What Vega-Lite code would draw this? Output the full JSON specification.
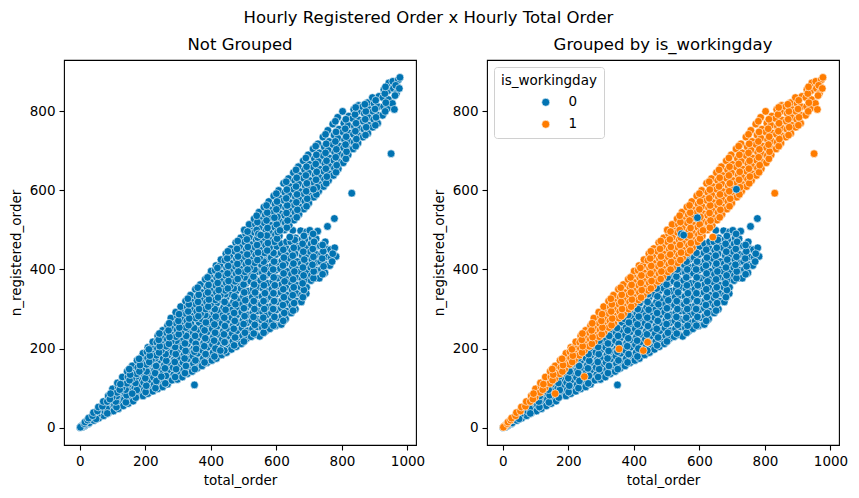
{
  "$schema": "https://vega.github.io/schema/vega-lite/v6.json",
  "title": {"text": "Hourly Registered Order x Hourly Total Order", "fontSize": 16.5, "fontWeight": "normal", "font": "DejaVu Sans", "anchor": "middle", "offset": 9},
  "padding": {"left": 8, "top": 10, "right": 17, "bottom": 5},
  "resolve": {"legend": {"color": "independent"}},
  "config": {
    "font": "DejaVu Sans",
    "view": {"stroke": "black", "strokeWidth": 1.1},
    "axis": {"grid": false, "domain": false, "tickColor": "black", "tickSize": 5, "tickWidth": 1.1, "labelFontSize": 13.5, "labelColor": "black", "labelFont": "DejaVu Sans", "titleFont": "DejaVu Sans", "titleFontSize": 13.5, "titleFontWeight": "normal", "titleColor": "black", "labelPadding": 4, "titlePadding": 6, "format": "d"},
    "title": {"fontSize": 16.5, "fontWeight": "normal", "font": "DejaVu Sans", "offset": 7},
    "legend": {"orient": "top-left", "offset": 7, "padding": 7, "fillColor": "white", "strokeColor": "#d0d0d0", "cornerRadius": 3, "titleFontSize": 13.5, "titleFontWeight": "normal", "titleColor": "black", "labelFontSize": 13.5, "labelColor": "black", "symbolSize": 64, "symbolOffset": 38, "labelOffset": 16, "rowPadding": 7, "titlePadding": 8, "symbolStrokeColor": "white", "symbolStrokeWidth": 0.6},
    "concat": {"spacing": 5}
  },
  "datasets": {
    "orders": [
      {"total":1,"reg":0,"wd":0},{"total":3,"reg":2,"wd":0},{"total":6,"reg":1,"wd":0},
      {"total":9,"reg":3,"wd":0},{"total":12,"reg":8,"wd":0},{"total":15,"reg":5,"wd":0},
      {"total":19,"reg":8,"wd":0},{"total":22,"reg":14,"wd":0},{"total":26,"reg":10,"wd":0},
      {"total":29,"reg":12,"wd":0},{"total":32,"reg":20,"wd":0},{"total":34,"reg":26,"wd":0},
      {"total":43,"reg":18,"wd":0},{"total":46,"reg":28,"wd":0},{"total":48,"reg":36,"wd":0},
      {"total":58,"reg":24,"wd":0},{"total":61,"reg":36,"wd":0},{"total":63,"reg":46,"wd":0},
      {"total":73,"reg":30,"wd":0},{"total":76,"reg":42,"wd":0},{"total":78,"reg":55,"wd":0},
      {"total":88,"reg":38,"wd":0},{"total":91,"reg":50,"wd":0},{"total":89,"reg":64,"wd":0},{"total":93,"reg":72,"wd":0},
      {"total":103,"reg":42,"wd":0},{"total":106,"reg":57,"wd":0},{"total":108,"reg":72,"wd":0},{"total":104,"reg":84,"wd":0},
      {"total":118,"reg":48,"wd":0},{"total":122,"reg":63,"wd":0},{"total":120,"reg":79,"wd":0},{"total":124,"reg":93,"wd":0},
      {"total":133,"reg":55,"wd":0},{"total":136,"reg":71,"wd":0},{"total":138,"reg":87,"wd":0},{"total":134,"reg":101,"wd":0},
      {"total":148,"reg":61,"wd":0},{"total":152,"reg":77,"wd":0},{"total":150,"reg":94,"wd":0},{"total":153,"reg":110,"wd":0},{"total":147,"reg":118,"wd":0},
      {"total":163,"reg":67,"wd":0},{"total":166,"reg":84,"wd":0},{"total":168,"reg":100,"wd":0},{"total":164,"reg":117,"wd":0},{"total":167,"reg":128,"wd":0},
      {"total":182,"reg":82,"wd":0},{"total":179,"reg":90,"wd":0},{"total":183,"reg":108,"wd":0},{"total":181,"reg":124,"wd":0},{"total":178,"reg":138,"wd":0},
      {"total":193,"reg":80,"wd":0},{"total":197,"reg":96,"wd":0},{"total":195,"reg":114,"wd":0},{"total":198,"reg":131,"wd":0},{"total":194,"reg":148,"wd":0},
      {"total":208,"reg":86,"wd":0},{"total":212,"reg":102,"wd":0},{"total":210,"reg":120,"wd":0},{"total":213,"reg":138,"wd":0},{"total":209,"reg":155,"wd":0},{"total":211,"reg":160,"wd":0},
      {"total":223,"reg":92,"wd":0},{"total":227,"reg":109,"wd":0},{"total":225,"reg":127,"wd":0},{"total":228,"reg":145,"wd":0},{"total":224,"reg":162,"wd":0},{"total":226,"reg":172,"wd":0},
      {"total":238,"reg":98,"wd":0},{"total":242,"reg":116,"wd":0},{"total":240,"reg":134,"wd":0},{"total":243,"reg":152,"wd":0},{"total":239,"reg":170,"wd":0},{"total":241,"reg":182,"wd":0},
      {"total":253,"reg":103,"wd":0},{"total":257,"reg":121,"wd":0},{"total":255,"reg":140,"wd":0},{"total":258,"reg":158,"wd":0},{"total":254,"reg":176,"wd":0},{"total":256,"reg":192,"wd":0},
      {"total":268,"reg":110,"wd":0},{"total":272,"reg":128,"wd":0},{"total":270,"reg":146,"wd":0},{"total":273,"reg":165,"wd":0},{"total":269,"reg":183,"wd":0},{"total":271,"reg":200,"wd":0},
      {"total":281,"reg":120,"wd":0},{"total":287,"reg":134,"wd":0},{"total":285,"reg":152,"wd":0},{"total":288,"reg":171,"wd":0},{"total":284,"reg":190,"wd":0},{"total":286,"reg":207,"wd":0},{"total":283,"reg":215,"wd":0},
      {"total":298,"reg":122,"wd":0},{"total":302,"reg":139,"wd":0},{"total":300,"reg":158,"wd":0},{"total":303,"reg":177,"wd":0},{"total":299,"reg":196,"wd":0},{"total":301,"reg":214,"wd":0},{"total":304,"reg":228,"wd":0},
      {"total":313,"reg":128,"wd":0},{"total":317,"reg":146,"wd":0},{"total":315,"reg":165,"wd":0},{"total":318,"reg":184,"wd":0},{"total":314,"reg":203,"wd":0},{"total":316,"reg":222,"wd":0},{"total":312,"reg":238,"wd":0},
      {"total":328,"reg":136,"wd":0},{"total":332,"reg":155,"wd":0},{"total":330,"reg":174,"wd":0},{"total":333,"reg":193,"wd":0},{"total":329,"reg":212,"wd":0},{"total":331,"reg":231,"wd":0},{"total":334,"reg":247,"wd":0},
      {"total":343,"reg":142,"wd":0},{"total":347,"reg":162,"wd":0},{"total":345,"reg":181,"wd":0},{"total":348,"reg":200,"wd":0},{"total":344,"reg":220,"wd":0},{"total":346,"reg":240,"wd":0},{"total":342,"reg":258,"wd":0},
      {"total":350,"reg":108,"wd":0},
      {"total":358,"reg":150,"wd":0},{"total":362,"reg":168,"wd":0},{"total":360,"reg":188,"wd":0},{"total":363,"reg":207,"wd":0},{"total":359,"reg":227,"wd":0},{"total":361,"reg":246,"wd":0},{"total":364,"reg":266,"wd":0},
      {"total":373,"reg":156,"wd":0},{"total":377,"reg":175,"wd":0},{"total":375,"reg":195,"wd":0},{"total":378,"reg":214,"wd":0},{"total":374,"reg":234,"wd":0},{"total":376,"reg":253,"wd":0},{"total":372,"reg":275,"wd":0},
      {"total":388,"reg":164,"wd":0},{"total":392,"reg":183,"wd":0},{"total":390,"reg":203,"wd":0},{"total":393,"reg":222,"wd":0},{"total":389,"reg":242,"wd":0},{"total":391,"reg":262,"wd":0},{"total":394,"reg":282,"wd":0},{"total":387,"reg":295,"wd":0},
      {"total":403,"reg":170,"wd":0},{"total":407,"reg":190,"wd":0},{"total":405,"reg":210,"wd":0},{"total":408,"reg":230,"wd":0},{"total":404,"reg":250,"wd":0},{"total":406,"reg":270,"wd":0},{"total":409,"reg":290,"wd":0},{"total":402,"reg":305,"wd":0},
      {"total":417,"reg":175,"wd":0},{"total":422,"reg":196,"wd":0},{"total":420,"reg":216,"wd":0},{"total":423,"reg":236,"wd":0},{"total":419,"reg":256,"wd":0},{"total":421,"reg":276,"wd":0},{"total":424,"reg":296,"wd":0},{"total":418,"reg":315,"wd":0},
      {"total":433,"reg":184,"wd":0},{"total":437,"reg":204,"wd":0},{"total":435,"reg":224,"wd":0},{"total":438,"reg":244,"wd":0},{"total":434,"reg":264,"wd":0},{"total":436,"reg":284,"wd":0},{"total":439,"reg":304,"wd":0},{"total":432,"reg":324,"wd":0},
      {"total":448,"reg":190,"wd":0},{"total":452,"reg":210,"wd":0},{"total":450,"reg":230,"wd":0},{"total":453,"reg":250,"wd":0},{"total":449,"reg":270,"wd":0},{"total":451,"reg":290,"wd":0},{"total":454,"reg":310,"wd":0},{"total":447,"reg":330,"wd":0},{"total":452,"reg":345,"wd":0},
      {"total":463,"reg":198,"wd":0},{"total":467,"reg":218,"wd":0},{"total":465,"reg":238,"wd":0},{"total":468,"reg":258,"wd":0},{"total":464,"reg":278,"wd":0},{"total":466,"reg":298,"wd":0},{"total":469,"reg":318,"wd":0},{"total":462,"reg":338,"wd":0},{"total":467,"reg":355,"wd":0},
      {"total":478,"reg":205,"wd":0},{"total":482,"reg":225,"wd":0},{"total":480,"reg":245,"wd":0},{"total":483,"reg":265,"wd":0},{"total":479,"reg":285,"wd":0},{"total":481,"reg":305,"wd":0},{"total":484,"reg":325,"wd":0},{"total":477,"reg":345,"wd":0},{"total":482,"reg":365,"wd":0},
      {"total":493,"reg":212,"wd":0},{"total":497,"reg":232,"wd":0},{"total":495,"reg":252,"wd":0},{"total":498,"reg":272,"wd":0},{"total":494,"reg":292,"wd":0},{"total":496,"reg":312,"wd":0},{"total":499,"reg":332,"wd":0},{"total":492,"reg":352,"wd":0},{"total":497,"reg":372,"wd":0},{"total":494,"reg":390,"wd":0},
      {"total":508,"reg":225,"wd":0},{"total":512,"reg":245,"wd":0},{"total":510,"reg":265,"wd":0},{"total":513,"reg":285,"wd":0},{"total":509,"reg":305,"wd":0},{"total":511,"reg":325,"wd":0},{"total":514,"reg":345,"wd":0},{"total":507,"reg":365,"wd":0},{"total":512,"reg":385,"wd":0},{"total":509,"reg":400,"wd":0},
      {"total":523,"reg":230,"wd":0},{"total":527,"reg":250,"wd":0},{"total":525,"reg":270,"wd":0},{"total":528,"reg":290,"wd":0},{"total":524,"reg":310,"wd":0},{"total":526,"reg":330,"wd":0},{"total":529,"reg":350,"wd":0},{"total":522,"reg":370,"wd":0},{"total":527,"reg":390,"wd":0},{"total":524,"reg":410,"wd":0},
      {"total":538,"reg":235,"wd":0},{"total":542,"reg":255,"wd":0},{"total":540,"reg":275,"wd":0},{"total":543,"reg":295,"wd":0},{"total":539,"reg":315,"wd":0},{"total":541,"reg":335,"wd":0},{"total":544,"reg":355,"wd":0},{"total":537,"reg":375,"wd":0},{"total":542,"reg":395,"wd":0},{"total":539,"reg":418,"wd":0},{"total":544,"reg":430,"wd":0},
      {"total":549,"reg":231,"wd":0},{"total":557,"reg":252,"wd":0},{"total":555,"reg":272,"wd":0},{"total":558,"reg":292,"wd":0},{"total":554,"reg":312,"wd":0},{"total":556,"reg":332,"wd":0},{"total":559,"reg":352,"wd":0},{"total":552,"reg":372,"wd":0},{"total":557,"reg":392,"wd":0},{"total":554,"reg":412,"wd":0},{"total":556,"reg":435,"wd":0},
      {"total":568,"reg":245,"wd":0},{"total":572,"reg":265,"wd":0},{"total":570,"reg":285,"wd":0},{"total":573,"reg":305,"wd":0},{"total":569,"reg":325,"wd":0},{"total":571,"reg":345,"wd":0},{"total":574,"reg":365,"wd":0},{"total":567,"reg":385,"wd":0},{"total":572,"reg":405,"wd":0},{"total":569,"reg":425,"wd":0},{"total":571,"reg":440,"wd":0},
      {"total":580,"reg":250,"wd":0},{"total":587,"reg":270,"wd":0},{"total":585,"reg":290,"wd":0},{"total":588,"reg":310,"wd":0},{"total":584,"reg":330,"wd":0},{"total":586,"reg":350,"wd":0},{"total":589,"reg":370,"wd":0},{"total":582,"reg":390,"wd":0},{"total":587,"reg":410,"wd":0},{"total":584,"reg":430,"wd":0},{"total":586,"reg":452,"wd":0},
      {"total":598,"reg":258,"wd":0},{"total":602,"reg":278,"wd":0},{"total":600,"reg":298,"wd":0},{"total":603,"reg":318,"wd":0},{"total":599,"reg":338,"wd":0},{"total":601,"reg":358,"wd":0},{"total":604,"reg":378,"wd":0},{"total":597,"reg":398,"wd":0},{"total":602,"reg":418,"wd":0},{"total":599,"reg":438,"wd":0},{"total":601,"reg":458,"wd":0},
      {"total":615,"reg":261,"wd":0},{"total":617,"reg":282,"wd":0},{"total":615,"reg":302,"wd":0},{"total":618,"reg":322,"wd":0},{"total":614,"reg":342,"wd":0},{"total":616,"reg":362,"wd":0},{"total":619,"reg":382,"wd":0},{"total":612,"reg":402,"wd":0},{"total":617,"reg":422,"wd":0},{"total":614,"reg":442,"wd":0},{"total":616,"reg":465,"wd":0},
      {"total":628,"reg":275,"wd":0},{"total":632,"reg":295,"wd":0},{"total":630,"reg":315,"wd":0},{"total":633,"reg":335,"wd":0},{"total":629,"reg":355,"wd":0},{"total":631,"reg":375,"wd":0},{"total":634,"reg":395,"wd":0},{"total":627,"reg":415,"wd":0},{"total":632,"reg":435,"wd":0},{"total":629,"reg":455,"wd":0},{"total":631,"reg":470,"wd":0},
      {"total":645,"reg":290,"wd":0},{"total":647,"reg":308,"wd":0},{"total":645,"reg":328,"wd":0},{"total":648,"reg":348,"wd":0},{"total":644,"reg":368,"wd":0},{"total":646,"reg":388,"wd":0},{"total":649,"reg":408,"wd":0},{"total":642,"reg":428,"wd":0},{"total":647,"reg":448,"wd":0},{"total":644,"reg":470,"wd":0},{"total":650,"reg":499,"wd":0},
      {"total":658,"reg":300,"wd":0},{"total":662,"reg":320,"wd":0},{"total":660,"reg":340,"wd":0},{"total":663,"reg":360,"wd":0},{"total":659,"reg":380,"wd":0},{"total":661,"reg":400,"wd":0},{"total":664,"reg":420,"wd":0},{"total":657,"reg":440,"wd":0},{"total":662,"reg":460,"wd":0},{"total":659,"reg":480,"wd":0},
      {"total":676,"reg":318,"wd":0},{"total":677,"reg":335,"wd":0},{"total":675,"reg":355,"wd":0},{"total":678,"reg":375,"wd":0},{"total":674,"reg":395,"wd":0},{"total":676,"reg":415,"wd":0},{"total":679,"reg":435,"wd":0},{"total":672,"reg":455,"wd":0},{"total":677,"reg":475,"wd":0},{"total":674,"reg":498,"wd":0},
      {"total":691,"reg":339,"wd":0},{"total":692,"reg":355,"wd":0},{"total":690,"reg":375,"wd":0},{"total":693,"reg":395,"wd":0},{"total":689,"reg":415,"wd":0},{"total":691,"reg":435,"wd":0},{"total":694,"reg":455,"wd":0},{"total":687,"reg":475,"wd":0},{"total":692,"reg":495,"wd":0},
      {"total":706,"reg":372,"wd":0},{"total":707,"reg":385,"wd":0},{"total":705,"reg":405,"wd":0},{"total":708,"reg":425,"wd":0},{"total":704,"reg":445,"wd":0},{"total":706,"reg":465,"wd":0},{"total":709,"reg":480,"wd":0},{"total":702,"reg":499,"wd":0},
      {"total":718,"reg":378,"wd":0},{"total":722,"reg":398,"wd":0},{"total":720,"reg":418,"wd":0},{"total":723,"reg":438,"wd":0},{"total":719,"reg":458,"wd":0},{"total":721,"reg":478,"wd":0},
      {"total":731,"reg":378,"wd":0},{"total":737,"reg":400,"wd":0},{"total":735,"reg":420,"wd":0},{"total":738,"reg":440,"wd":0},{"total":734,"reg":460,"wd":0},{"total":726,"reg":497,"wd":0},
      {"total":748,"reg":392,"wd":0},{"total":752,"reg":412,"wd":0},{"total":750,"reg":432,"wd":0},{"total":753,"reg":452,"wd":0},{"total":749,"reg":470,"wd":0},
      {"total":763,"reg":410,"wd":0},{"total":767,"reg":430,"wd":0},{"total":765,"reg":450,"wd":0},{"total":756,"reg":509,"wd":0},
      {"total":782,"reg":433,"wd":0},{"total":778,"reg":455,"wd":0},{"total":777,"reg":529,"wd":0},
      {"total":53,"reg":30,"wd":0},{"total":50,"reg":22,"wd":0},{"total":82,"reg":48,"wd":0},{"total":84,"reg":36,"wd":0},
      {"total":112,"reg":52,"wd":0},{"total":110,"reg":66,"wd":0},{"total":113,"reg":80,"wd":0},
      {"total":141,"reg":64,"wd":0},{"total":143,"reg":82,"wd":0},{"total":140,"reg":96,"wd":0},
      {"total":171,"reg":76,"wd":0},{"total":174,"reg":95,"wd":0},{"total":170,"reg":113,"wd":0},{"total":173,"reg":130,"wd":0},
      {"total":201,"reg":90,"wd":0},{"total":203,"reg":106,"wd":0},{"total":200,"reg":125,"wd":0},{"total":204,"reg":142,"wd":0},
      {"total":231,"reg":100,"wd":0},{"total":234,"reg":118,"wd":0},{"total":230,"reg":138,"wd":0},{"total":233,"reg":156,"wd":0},{"total":231,"reg":176,"wd":0},
      {"total":261,"reg":112,"wd":0},{"total":263,"reg":131,"wd":0},{"total":260,"reg":150,"wd":0},{"total":264,"reg":169,"wd":0},{"total":262,"reg":186,"wd":0},
      {"total":291,"reg":128,"wd":0},{"total":294,"reg":148,"wd":0},{"total":290,"reg":166,"wd":0},{"total":293,"reg":186,"wd":0},{"total":291,"reg":204,"wd":0},{"total":295,"reg":220,"wd":0},
      {"total":321,"reg":138,"wd":0},{"total":324,"reg":156,"wd":0},{"total":320,"reg":175,"wd":0},{"total":323,"reg":194,"wd":0},{"total":321,"reg":213,"wd":0},{"total":325,"reg":232,"wd":0},
      {"total":351,"reg":148,"wd":0},{"total":353,"reg":170,"wd":0},{"total":350,"reg":192,"wd":0},{"total":354,"reg":212,"wd":0},{"total":352,"reg":232,"wd":0},{"total":349,"reg":252,"wd":0},
      {"total":381,"reg":165,"wd":0},{"total":384,"reg":186,"wd":0},{"total":380,"reg":206,"wd":0},{"total":383,"reg":226,"wd":0},{"total":381,"reg":246,"wd":0},{"total":385,"reg":266,"wd":0},{"total":383,"reg":285,"wd":0},
      {"total":411,"reg":180,"wd":0},{"total":414,"reg":200,"wd":0},{"total":410,"reg":220,"wd":0},{"total":413,"reg":240,"wd":0},{"total":411,"reg":261,"wd":0},{"total":415,"reg":281,"wd":0},{"total":412,"reg":300,"wd":0},
      {"total":441,"reg":195,"wd":0},{"total":444,"reg":216,"wd":0},{"total":440,"reg":236,"wd":0},{"total":443,"reg":257,"wd":0},{"total":441,"reg":278,"wd":0},{"total":445,"reg":298,"wd":0},{"total":442,"reg":318,"wd":0},{"total":444,"reg":338,"wd":0},
      {"total":471,"reg":208,"wd":0},{"total":474,"reg":228,"wd":0},{"total":470,"reg":250,"wd":0},{"total":473,"reg":270,"wd":0},{"total":471,"reg":290,"wd":0},{"total":475,"reg":312,"wd":0},{"total":472,"reg":332,"wd":0},{"total":470,"reg":352,"wd":0},
      {"total":501,"reg":218,"wd":0},{"total":504,"reg":240,"wd":0},{"total":500,"reg":262,"wd":0},{"total":503,"reg":282,"wd":0},{"total":501,"reg":302,"wd":0},{"total":505,"reg":322,"wd":0},{"total":502,"reg":342,"wd":0},{"total":500,"reg":362,"wd":0},{"total":503,"reg":380,"wd":0},
      {"total":531,"reg":238,"wd":0},{"total":534,"reg":260,"wd":0},{"total":530,"reg":280,"wd":0},{"total":533,"reg":300,"wd":0},{"total":531,"reg":320,"wd":0},{"total":535,"reg":342,"wd":0},{"total":532,"reg":362,"wd":0},{"total":530,"reg":382,"wd":0},{"total":533,"reg":400,"wd":0},{"total":535,"reg":420,"wd":0},
      {"total":561,"reg":240,"wd":0},{"total":564,"reg":258,"wd":0},{"total":560,"reg":278,"wd":0},{"total":563,"reg":300,"wd":0},{"total":561,"reg":320,"wd":0},{"total":565,"reg":340,"wd":0},{"total":562,"reg":360,"wd":0},{"total":560,"reg":380,"wd":0},{"total":563,"reg":400,"wd":0},{"total":561,"reg":420,"wd":0},
      {"total":591,"reg":258,"wd":0},{"total":594,"reg":280,"wd":0},{"total":590,"reg":300,"wd":0},{"total":593,"reg":320,"wd":0},{"total":591,"reg":340,"wd":0},{"total":595,"reg":360,"wd":0},{"total":592,"reg":380,"wd":0},{"total":590,"reg":400,"wd":0},{"total":593,"reg":420,"wd":0},{"total":591,"reg":442,"wd":0},
      {"total":621,"reg":270,"wd":0},{"total":624,"reg":290,"wd":0},{"total":620,"reg":310,"wd":0},{"total":623,"reg":330,"wd":0},{"total":621,"reg":350,"wd":0},{"total":625,"reg":370,"wd":0},{"total":622,"reg":390,"wd":0},{"total":620,"reg":410,"wd":0},{"total":623,"reg":430,"wd":0},{"total":621,"reg":450,"wd":0},
      {"total":651,"reg":296,"wd":0},{"total":654,"reg":315,"wd":0},{"total":650,"reg":335,"wd":0},{"total":653,"reg":355,"wd":0},{"total":651,"reg":375,"wd":0},{"total":655,"reg":395,"wd":0},{"total":652,"reg":415,"wd":0},{"total":650,"reg":435,"wd":0},{"total":653,"reg":455,"wd":0},{"total":656,"reg":475,"wd":0},
      {"total":681,"reg":330,"wd":0},{"total":684,"reg":348,"wd":0},{"total":680,"reg":365,"wd":0},{"total":683,"reg":385,"wd":0},{"total":681,"reg":405,"wd":0},{"total":685,"reg":425,"wd":0},{"total":682,"reg":445,"wd":0},{"total":680,"reg":465,"wd":0},{"total":684,"reg":485,"wd":0},
      {"total":713,"reg":378,"wd":0},{"total":714,"reg":395,"wd":0},{"total":710,"reg":412,"wd":0},{"total":713,"reg":432,"wd":0},{"total":711,"reg":452,"wd":0},{"total":715,"reg":470,"wd":0},{"total":712,"reg":490,"wd":0},
      {"total":741,"reg":388,"wd":0},{"total":744,"reg":408,"wd":0},{"total":740,"reg":428,"wd":0},{"total":743,"reg":446,"wd":0},{"total":741,"reg":462,"wd":0},
      {"total":770,"reg":420,"wd":0},{"total":772,"reg":440,"wd":0},
      {"total":4,"reg":3,"wd":1},{"total":7,"reg":5,"wd":1},{"total":2,"reg":1,"wd":1},
      {"total":14,"reg":10,"wd":1},{"total":16,"reg":14,"wd":1},
      {"total":24,"reg":19,"wd":1},{"total":27,"reg":24,"wd":1},
      {"total":39,"reg":30,"wd":1},{"total":42,"reg":38,"wd":1},
      {"total":54,"reg":42,"wd":1},{"total":57,"reg":52,"wd":1},
      {"total":69,"reg":54,"wd":1},{"total":72,"reg":66,"wd":1},
      {"total":84,"reg":66,"wd":1},{"total":87,"reg":80,"wd":1},
      {"total":99,"reg":77,"wd":1},{"total":102,"reg":92,"wd":1},{"total":100,"reg":98,"wd":1},
      {"total":114,"reg":89,"wd":1},{"total":117,"reg":104,"wd":1},{"total":115,"reg":113,"wd":1},
      {"total":129,"reg":101,"wd":1},{"total":132,"reg":116,"wd":1},{"total":130,"reg":128,"wd":1},
      {"total":144,"reg":112,"wd":1},{"total":147,"reg":128,"wd":1},{"total":145,"reg":142,"wd":1},
      {"total":159,"reg":124,"wd":1},{"total":162,"reg":140,"wd":1},{"total":160,"reg":156,"wd":1},
      {"total":174,"reg":136,"wd":1},{"total":177,"reg":152,"wd":1},{"total":175,"reg":170,"wd":1},
      {"total":189,"reg":148,"wd":1},{"total":192,"reg":164,"wd":1},{"total":190,"reg":180,"wd":1},{"total":193,"reg":188,"wd":1},
      {"total":204,"reg":160,"wd":1},{"total":207,"reg":176,"wd":1},{"total":205,"reg":192,"wd":1},{"total":208,"reg":203,"wd":1},
      {"total":219,"reg":171,"wd":1},{"total":222,"reg":188,"wd":1},{"total":220,"reg":204,"wd":1},{"total":223,"reg":217,"wd":1},
      {"total":234,"reg":183,"wd":1},{"total":237,"reg":200,"wd":1},{"total":235,"reg":216,"wd":1},{"total":238,"reg":232,"wd":1},
      {"total":249,"reg":195,"wd":1},{"total":252,"reg":212,"wd":1},{"total":250,"reg":228,"wd":1},{"total":253,"reg":246,"wd":1},
      {"total":264,"reg":206,"wd":1},{"total":267,"reg":223,"wd":1},{"total":265,"reg":240,"wd":1},{"total":268,"reg":258,"wd":1},
      {"total":279,"reg":218,"wd":1},{"total":282,"reg":235,"wd":1},{"total":280,"reg":252,"wd":1},{"total":283,"reg":270,"wd":1},{"total":278,"reg":277,"wd":1},
      {"total":294,"reg":230,"wd":1},{"total":297,"reg":247,"wd":1},{"total":295,"reg":264,"wd":1},{"total":298,"reg":281,"wd":1},{"total":293,"reg":292,"wd":1},
      {"total":309,"reg":242,"wd":1},{"total":312,"reg":259,"wd":1},{"total":310,"reg":276,"wd":1},{"total":313,"reg":293,"wd":1},{"total":308,"reg":306,"wd":1},
      {"total":324,"reg":253,"wd":1},{"total":327,"reg":270,"wd":1},{"total":325,"reg":288,"wd":1},{"total":328,"reg":305,"wd":1},{"total":323,"reg":320,"wd":1},
      {"total":339,"reg":265,"wd":1},{"total":342,"reg":282,"wd":1},{"total":340,"reg":300,"wd":1},{"total":343,"reg":318,"wd":1},{"total":338,"reg":335,"wd":1},
      {"total":354,"reg":277,"wd":1},{"total":357,"reg":294,"wd":1},{"total":355,"reg":312,"wd":1},{"total":358,"reg":330,"wd":1},{"total":353,"reg":350,"wd":1},
      {"total":369,"reg":288,"wd":1},{"total":372,"reg":306,"wd":1},{"total":370,"reg":324,"wd":1},{"total":373,"reg":342,"wd":1},{"total":368,"reg":362,"wd":1},
      {"total":384,"reg":300,"wd":1},{"total":387,"reg":318,"wd":1},{"total":385,"reg":336,"wd":1},{"total":388,"reg":355,"wd":1},{"total":383,"reg":375,"wd":1},
      {"total":399,"reg":312,"wd":1},{"total":402,"reg":330,"wd":1},{"total":400,"reg":348,"wd":1},{"total":403,"reg":367,"wd":1},{"total":398,"reg":386,"wd":1},{"total":401,"reg":396,"wd":1},
      {"total":414,"reg":323,"wd":1},{"total":417,"reg":342,"wd":1},{"total":415,"reg":360,"wd":1},{"total":418,"reg":379,"wd":1},{"total":413,"reg":398,"wd":1},{"total":416,"reg":410,"wd":1},
      {"total":429,"reg":335,"wd":1},{"total":432,"reg":354,"wd":1},{"total":430,"reg":372,"wd":1},{"total":433,"reg":391,"wd":1},{"total":428,"reg":410,"wd":1},{"total":431,"reg":425,"wd":1},
      {"total":444,"reg":347,"wd":1},{"total":447,"reg":366,"wd":1},{"total":445,"reg":385,"wd":1},{"total":448,"reg":404,"wd":1},{"total":443,"reg":423,"wd":1},{"total":446,"reg":440,"wd":1},
      {"total":459,"reg":358,"wd":1},{"total":462,"reg":377,"wd":1},{"total":460,"reg":396,"wd":1},{"total":463,"reg":415,"wd":1},{"total":458,"reg":434,"wd":1},{"total":461,"reg":453,"wd":1},
      {"total":474,"reg":370,"wd":1},{"total":477,"reg":389,"wd":1},{"total":475,"reg":408,"wd":1},{"total":478,"reg":427,"wd":1},{"total":473,"reg":446,"wd":1},{"total":476,"reg":468,"wd":1},
      {"total":489,"reg":382,"wd":1},{"total":492,"reg":401,"wd":1},{"total":490,"reg":420,"wd":1},{"total":493,"reg":439,"wd":1},{"total":488,"reg":458,"wd":1},{"total":491,"reg":480,"wd":1},
      {"total":504,"reg":394,"wd":1},{"total":507,"reg":413,"wd":1},{"total":505,"reg":432,"wd":1},{"total":508,"reg":451,"wd":1},{"total":503,"reg":470,"wd":1},{"total":506,"reg":490,"wd":1},{"total":502,"reg":500,"wd":1},
      {"total":519,"reg":405,"wd":1},{"total":522,"reg":425,"wd":1},{"total":520,"reg":444,"wd":1},{"total":523,"reg":463,"wd":1},{"total":518,"reg":482,"wd":1},{"total":521,"reg":502,"wd":1},{"total":517,"reg":514,"wd":1},
      {"total":534,"reg":417,"wd":1},{"total":537,"reg":437,"wd":1},{"total":535,"reg":456,"wd":1},{"total":538,"reg":475,"wd":1},{"total":533,"reg":494,"wd":1},{"total":536,"reg":514,"wd":1},{"total":532,"reg":528,"wd":1},
      {"total":549,"reg":430,"wd":1},{"total":552,"reg":449,"wd":1},{"total":550,"reg":468,"wd":1},{"total":553,"reg":487,"wd":1},{"total":548,"reg":506,"wd":1},{"total":551,"reg":526,"wd":1},{"total":547,"reg":545,"wd":1},
      {"total":564,"reg":442,"wd":1},{"total":567,"reg":461,"wd":1},{"total":565,"reg":480,"wd":1},{"total":568,"reg":499,"wd":1},{"total":563,"reg":518,"wd":1},{"total":566,"reg":538,"wd":1},{"total":562,"reg":558,"wd":1},
      {"total":579,"reg":455,"wd":1},{"total":582,"reg":474,"wd":1},{"total":580,"reg":493,"wd":1},{"total":583,"reg":512,"wd":1},{"total":578,"reg":531,"wd":1},{"total":581,"reg":551,"wd":1},{"total":577,"reg":572,"wd":1},
      {"total":594,"reg":470,"wd":1},{"total":597,"reg":488,"wd":1},{"total":595,"reg":507,"wd":1},{"total":598,"reg":526,"wd":1},{"total":593,"reg":545,"wd":1},{"total":596,"reg":565,"wd":1},{"total":592,"reg":586,"wd":1},
      {"total":609,"reg":485,"wd":1},{"total":612,"reg":503,"wd":1},{"total":610,"reg":522,"wd":1},{"total":613,"reg":541,"wd":1},{"total":608,"reg":560,"wd":1},{"total":611,"reg":580,"wd":1},{"total":607,"reg":600,"wd":1},
      {"total":624,"reg":500,"wd":1},{"total":627,"reg":518,"wd":1},{"total":625,"reg":537,"wd":1},{"total":628,"reg":556,"wd":1},{"total":623,"reg":575,"wd":1},{"total":626,"reg":595,"wd":1},{"total":622,"reg":618,"wd":1},
      {"total":639,"reg":512,"wd":1},{"total":642,"reg":531,"wd":1},{"total":640,"reg":550,"wd":1},{"total":643,"reg":569,"wd":1},{"total":638,"reg":589,"wd":1},{"total":641,"reg":610,"wd":1},{"total":637,"reg":630,"wd":1},
      {"total":654,"reg":525,"wd":1},{"total":657,"reg":544,"wd":1},{"total":655,"reg":563,"wd":1},{"total":658,"reg":583,"wd":1},{"total":653,"reg":603,"wd":1},{"total":656,"reg":625,"wd":1},{"total":652,"reg":645,"wd":1},
      {"total":669,"reg":540,"wd":1},{"total":672,"reg":558,"wd":1},{"total":670,"reg":577,"wd":1},{"total":673,"reg":597,"wd":1},{"total":668,"reg":617,"wd":1},{"total":671,"reg":638,"wd":1},{"total":667,"reg":660,"wd":1},
      {"total":684,"reg":553,"wd":1},{"total":687,"reg":572,"wd":1},{"total":685,"reg":591,"wd":1},{"total":688,"reg":611,"wd":1},{"total":683,"reg":631,"wd":1},{"total":686,"reg":652,"wd":1},{"total":682,"reg":675,"wd":1},
      {"total":699,"reg":568,"wd":1},{"total":702,"reg":586,"wd":1},{"total":700,"reg":605,"wd":1},{"total":703,"reg":625,"wd":1},{"total":698,"reg":645,"wd":1},{"total":701,"reg":666,"wd":1},{"total":697,"reg":690,"wd":1},
      {"total":714,"reg":583,"wd":1},{"total":717,"reg":600,"wd":1},{"total":715,"reg":619,"wd":1},{"total":718,"reg":639,"wd":1},{"total":713,"reg":659,"wd":1},{"total":716,"reg":680,"wd":1},{"total":712,"reg":705,"wd":1},
      {"total":729,"reg":598,"wd":1},{"total":732,"reg":615,"wd":1},{"total":730,"reg":634,"wd":1},{"total":733,"reg":654,"wd":1},{"total":728,"reg":674,"wd":1},{"total":731,"reg":695,"wd":1},{"total":727,"reg":718,"wd":1},
      {"total":744,"reg":610,"wd":1},{"total":747,"reg":628,"wd":1},{"total":745,"reg":648,"wd":1},{"total":748,"reg":668,"wd":1},{"total":743,"reg":688,"wd":1},{"total":746,"reg":710,"wd":1},{"total":742,"reg":735,"wd":1},
      {"total":759,"reg":625,"wd":1},{"total":762,"reg":642,"wd":1},{"total":760,"reg":662,"wd":1},{"total":763,"reg":682,"wd":1},{"total":758,"reg":702,"wd":1},{"total":761,"reg":724,"wd":1},{"total":757,"reg":752,"wd":1},
      {"total":774,"reg":638,"wd":1},{"total":777,"reg":656,"wd":1},{"total":775,"reg":676,"wd":1},{"total":778,"reg":696,"wd":1},{"total":773,"reg":716,"wd":1},{"total":776,"reg":740,"wd":1},{"total":772,"reg":768,"wd":1},
      {"total":789,"reg":655,"wd":1},{"total":792,"reg":672,"wd":1},{"total":790,"reg":692,"wd":1},{"total":793,"reg":712,"wd":1},{"total":788,"reg":732,"wd":1},{"total":791,"reg":755,"wd":1},{"total":787,"reg":785,"wd":1},
      {"total":804,"reg":670,"wd":1},{"total":807,"reg":688,"wd":1},{"total":805,"reg":708,"wd":1},{"total":808,"reg":728,"wd":1},{"total":803,"reg":748,"wd":1},{"total":806,"reg":770,"wd":1},{"total":802,"reg":800,"wd":1},
      {"total":819,"reg":690,"wd":1},{"total":822,"reg":705,"wd":1},{"total":820,"reg":725,"wd":1},{"total":823,"reg":745,"wd":1},{"total":818,"reg":765,"wd":1},{"total":821,"reg":788,"wd":1},
      {"total":834,"reg":705,"wd":1},{"total":837,"reg":722,"wd":1},{"total":835,"reg":742,"wd":1},{"total":838,"reg":762,"wd":1},{"total":833,"reg":782,"wd":1},{"total":836,"reg":805,"wd":1},
      {"total":849,"reg":720,"wd":1},{"total":852,"reg":738,"wd":1},{"total":850,"reg":758,"wd":1},{"total":853,"reg":778,"wd":1},{"total":848,"reg":800,"wd":1},{"total":851,"reg":815,"wd":1},
      {"total":864,"reg":735,"wd":1},{"total":867,"reg":755,"wd":1},{"total":865,"reg":775,"wd":1},{"total":868,"reg":795,"wd":1},{"total":863,"reg":812,"wd":1},
      {"total":879,"reg":745,"wd":1},{"total":882,"reg":765,"wd":1},{"total":880,"reg":785,"wd":1},{"total":883,"reg":805,"wd":1},{"total":878,"reg":822,"wd":1},
      {"total":894,"reg":760,"wd":1},{"total":897,"reg":780,"wd":1},{"total":895,"reg":800,"wd":1},{"total":898,"reg":820,"wd":1},{"total":893,"reg":835,"wd":1},
      {"total":909,"reg":770,"wd":1},{"total":912,"reg":790,"wd":1},{"total":910,"reg":812,"wd":1},{"total":913,"reg":838,"wd":1},
      {"total":924,"reg":790,"wd":1},{"total":927,"reg":812,"wd":1},{"total":925,"reg":835,"wd":1},{"total":928,"reg":855,"wd":1},
      {"total":939,"reg":808,"wd":1},{"total":942,"reg":830,"wd":1},{"total":940,"reg":852,"wd":1},{"total":943,"reg":872,"wd":1},
      {"total":954,"reg":820,"wd":1},{"total":957,"reg":858,"wd":1},{"total":955,"reg":876,"wd":1},
      {"total":969,"reg":862,"wd":1},{"total":972,"reg":880,"wd":1},{"total":966,"reg":845,"wd":1},
      {"total":977,"reg":886,"wd":1},
      {"total":92,"reg":72,"wd":1},{"total":94,"reg":86,"wd":1},{"total":122,"reg":96,"wd":1},{"total":124,"reg":110,"wd":1},
      {"total":152,"reg":120,"wd":1},{"total":154,"reg":134,"wd":1},{"total":151,"reg":148,"wd":1},
      {"total":182,"reg":142,"wd":1},{"total":184,"reg":158,"wd":1},{"total":181,"reg":174,"wd":1},
      {"total":212,"reg":166,"wd":1},{"total":214,"reg":182,"wd":1},{"total":211,"reg":198,"wd":1},
      {"total":242,"reg":190,"wd":1},{"total":244,"reg":206,"wd":1},{"total":241,"reg":222,"wd":1},{"total":243,"reg":238,"wd":1},
      {"total":272,"reg":212,"wd":1},{"total":274,"reg":229,"wd":1},{"total":271,"reg":246,"wd":1},{"total":273,"reg":264,"wd":1},
      {"total":302,"reg":236,"wd":1},{"total":304,"reg":253,"wd":1},{"total":301,"reg":270,"wd":1},{"total":303,"reg":287,"wd":1},
      {"total":332,"reg":259,"wd":1},{"total":334,"reg":276,"wd":1},{"total":331,"reg":294,"wd":1},{"total":333,"reg":312,"wd":1},{"total":330,"reg":326,"wd":1},
      {"total":362,"reg":282,"wd":1},{"total":364,"reg":300,"wd":1},{"total":361,"reg":318,"wd":1},{"total":363,"reg":336,"wd":1},{"total":360,"reg":354,"wd":1},
      {"total":392,"reg":306,"wd":1},{"total":394,"reg":324,"wd":1},{"total":391,"reg":342,"wd":1},{"total":393,"reg":361,"wd":1},{"total":390,"reg":380,"wd":1},
      {"total":422,"reg":329,"wd":1},{"total":424,"reg":348,"wd":1},{"total":421,"reg":366,"wd":1},{"total":423,"reg":385,"wd":1},{"total":420,"reg":404,"wd":1},
      {"total":452,"reg":352,"wd":1},{"total":454,"reg":371,"wd":1},{"total":451,"reg":390,"wd":1},{"total":453,"reg":409,"wd":1},{"total":450,"reg":428,"wd":1},{"total":452,"reg":446,"wd":1},
      {"total":482,"reg":376,"wd":1},{"total":484,"reg":395,"wd":1},{"total":481,"reg":414,"wd":1},{"total":483,"reg":433,"wd":1},{"total":480,"reg":452,"wd":1},{"total":482,"reg":472,"wd":1},
      {"total":512,"reg":400,"wd":1},{"total":514,"reg":419,"wd":1},{"total":511,"reg":438,"wd":1},{"total":513,"reg":457,"wd":1},{"total":510,"reg":476,"wd":1},{"total":512,"reg":496,"wd":1},
      {"total":542,"reg":424,"wd":1},{"total":544,"reg":443,"wd":1},{"total":541,"reg":462,"wd":1},{"total":543,"reg":481,"wd":1},{"total":540,"reg":500,"wd":1},{"total":542,"reg":520,"wd":1},{"total":540,"reg":536,"wd":1},
      {"total":572,"reg":448,"wd":1},{"total":574,"reg":467,"wd":1},{"total":571,"reg":486,"wd":1},{"total":573,"reg":505,"wd":1},{"total":570,"reg":524,"wd":1},{"total":572,"reg":544,"wd":1},{"total":570,"reg":562,"wd":1},
      {"total":602,"reg":478,"wd":1},{"total":604,"reg":495,"wd":1},{"total":601,"reg":514,"wd":1},{"total":603,"reg":533,"wd":1},{"total":600,"reg":552,"wd":1},{"total":602,"reg":572,"wd":1},{"total":600,"reg":592,"wd":1},
      {"total":632,"reg":506,"wd":1},{"total":634,"reg":524,"wd":1},{"total":631,"reg":543,"wd":1},{"total":633,"reg":562,"wd":1},{"total":630,"reg":580,"wd":1},{"total":632,"reg":602,"wd":1},{"total":630,"reg":622,"wd":1},
      {"total":662,"reg":532,"wd":1},{"total":664,"reg":551,"wd":1},{"total":661,"reg":570,"wd":1},{"total":663,"reg":590,"wd":1},{"total":660,"reg":610,"wd":1},{"total":662,"reg":632,"wd":1},{"total":660,"reg":652,"wd":1},
      {"total":692,"reg":560,"wd":1},{"total":694,"reg":579,"wd":1},{"total":691,"reg":598,"wd":1},{"total":693,"reg":618,"wd":1},{"total":690,"reg":638,"wd":1},{"total":692,"reg":660,"wd":1},{"total":690,"reg":682,"wd":1},
      {"total":722,"reg":590,"wd":1},{"total":724,"reg":608,"wd":1},{"total":721,"reg":627,"wd":1},{"total":723,"reg":647,"wd":1},{"total":720,"reg":667,"wd":1},{"total":722,"reg":690,"wd":1},{"total":720,"reg":712,"wd":1},
      {"total":752,"reg":618,"wd":1},{"total":754,"reg":635,"wd":1},{"total":751,"reg":655,"wd":1},{"total":753,"reg":675,"wd":1},{"total":750,"reg":695,"wd":1},{"total":752,"reg":718,"wd":1},{"total":750,"reg":742,"wd":1},
      {"total":782,"reg":646,"wd":1},{"total":784,"reg":664,"wd":1},{"total":781,"reg":684,"wd":1},{"total":783,"reg":704,"wd":1},{"total":780,"reg":724,"wd":1},{"total":782,"reg":748,"wd":1},{"total":780,"reg":775,"wd":1},
      {"total":812,"reg":680,"wd":1},{"total":814,"reg":698,"wd":1},{"total":811,"reg":716,"wd":1},{"total":813,"reg":736,"wd":1},{"total":810,"reg":756,"wd":1},{"total":812,"reg":780,"wd":1},
      {"total":842,"reg":712,"wd":1},{"total":844,"reg":730,"wd":1},{"total":841,"reg":750,"wd":1},{"total":843,"reg":770,"wd":1},{"total":840,"reg":792,"wd":1},{"total":842,"reg":810,"wd":1},
      {"total":872,"reg":740,"wd":1},{"total":874,"reg":760,"wd":1},{"total":871,"reg":780,"wd":1},{"total":873,"reg":800,"wd":1},{"total":870,"reg":818,"wd":1},
      {"total":902,"reg":765,"wd":1},{"total":904,"reg":785,"wd":1},{"total":901,"reg":806,"wd":1},{"total":903,"reg":828,"wd":1},
      {"total":932,"reg":800,"wd":1},{"total":934,"reg":822,"wd":1},{"total":931,"reg":845,"wd":1},{"total":933,"reg":862,"wd":1},
      {"total":962,"reg":840,"wd":1},{"total":964,"reg":866,"wd":1},
      {"total":160,"reg":86,"wd":1},{"total":249,"reg":129,"wd":1},{"total":355,"reg":199,"wd":1},{"total":429,"reg":195,"wd":1},{"total":442,"reg":216,"wd":1},
      {"total":611,"reg":499,"wd":1},{"total":641,"reg":482,"wd":1},{"total":830,"reg":593,"wd":1},{"total":950,"reg":693,"wd":1},{"total":960,"reg":805,"wd":1},{"total":975,"reg":858,"wd":1},
      {"total":545,"reg":490,"wd":0},{"total":552,"reg":487,"wd":0},{"total":594,"reg":531,"wd":0},{"total":713,"reg":603,"wd":0}
    ]
  },
  "hconcat": [
    {
      "title": "Not Grouped",
      "width": 352,
      "height": 385,
      "data": {"name": "orders"},
      "mark": {"type": "point", "filled": true, "size": 60, "opacity": 1, "color": "#0173b2", "stroke": "white", "strokeWidth": 0.6},
      "encoding": {
        "x": {"field": "total", "type": "quantitative", "title": "total_order", "scale": {"domain": [-48, 1026], "nice": false, "zero": false}, "axis": {"values": [0, 200, 400, 600, 800, 1000]}},
        "y": {"field": "reg", "type": "quantitative", "title": "n_registered_order", "scale": {"domain": [-44, 930], "nice": false, "zero": false}, "axis": {"values": [0, 200, 400, 600, 800]}}
      }
    },
    {
      "title": "Grouped by is_workingday",
      "width": 352,
      "height": 385,
      "data": {"name": "orders"},
      "mark": {"type": "point", "filled": true, "size": 60, "opacity": 1, "stroke": "white", "strokeWidth": 0.6},
      "encoding": {
        "x": {"field": "total", "type": "quantitative", "title": "total_order", "scale": {"domain": [-48, 1026], "nice": false, "zero": false}, "axis": {"values": [0, 200, 400, 600, 800, 1000]}},
        "y": {"field": "reg", "type": "quantitative", "title": "n_registered_order", "scale": {"domain": [-44, 930], "nice": false, "zero": false}, "axis": {"values": [0, 200, 400, 600, 800]}},
        "color": {"field": "wd", "type": "nominal", "title": "is_workingday", "scale": {"domain": [0, 1], "range": ["#0173b2", "#ff7c00"]}}
      }
    }
  ]
}
